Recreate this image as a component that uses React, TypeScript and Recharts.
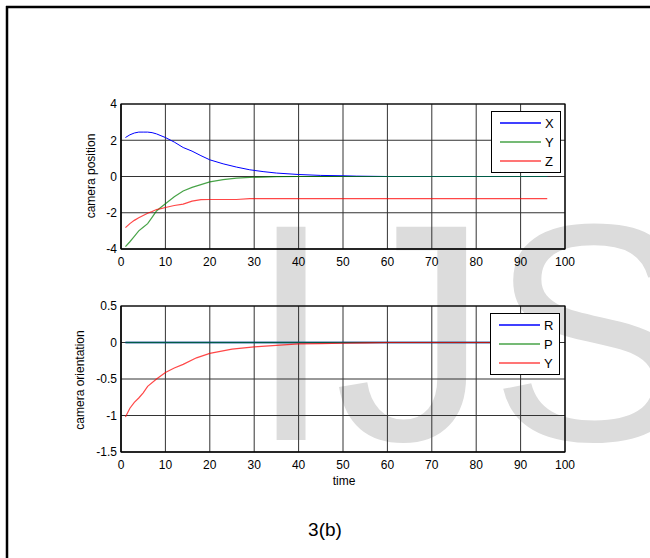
import React from 'react';
import { LineChart, Line, XAxis, YAxis, CartesianGrid, ReferenceArea } from 'recharts';

// camera position (upper plot)
const posTime = [1, 2, 3, 4, 5, 6, 7, 8, 9, 10, 12, 14, 16, 18, 20, 23, 26, 29, 32, 35, 40, 45, 50, 53, 60, 70, 80, 90, 96];
const posX = [2.15, 2.3, 2.4, 2.45, 2.45, 2.45, 2.42, 2.35, 2.25, 2.15, 1.9, 1.6, 1.4, 1.15, 0.92, 0.7, 0.52, 0.37, 0.27, 0.19, 0.11, 0.06, 0.04, 0.02, 0, 0, 0, 0, 0];
const posY = [-3.87, -3.6, -3.3, -3.0, -2.8, -2.6, -2.25, -1.9, -1.7, -1.5, -1.12, -0.8, -0.6, -0.45, -0.3, -0.17, -0.09, -0.05, -0.03, -0.01, 0, 0, 0, 0, 0, 0, 0, 0, 0];
const posZ = [-2.82, -2.6, -2.42, -2.28, -2.15, -2.03, -1.93, -1.82, -1.77, -1.71, -1.6, -1.52, -1.36, -1.28, -1.27, -1.27, -1.27, -1.22, -1.22, -1.22, -1.22, -1.22, -1.22, -1.22, -1.22, -1.22, -1.22, -1.22, -1.22];

// camera orientation (lower plot)
const oriTime = [1, 2, 3, 4, 5, 6, 8, 10, 12, 14, 17, 20, 25, 30, 35, 40, 45, 50, 55, 60, 70, 80, 90, 96];
const oriR = [0, 0, 0, 0, 0, 0, 0, 0, 0, 0, 0, 0, 0, 0, 0, 0, 0, 0, 0, 0, 0, 0, 0, 0];
const oriP = [0, 0, 0, 0, 0, 0, 0, 0, 0, 0, 0, 0, 0, 0, 0, 0, 0, 0, 0, 0, 0, 0, 0, 0];
const oriY = [-1.02, -0.9, -0.82, -0.76, -0.69, -0.6, -0.5, -0.41, -0.35, -0.3, -0.21, -0.15, -0.09, -0.06, -0.04, -0.02, -0.015, -0.01, -0.005, 0, 0, 0, 0, 0];

const timeTicks = [0, 10, 20, 30, 40, 50, 60, 70, 80, 90, 100];
const posTicks = [-4, -2, 0, 2, 4];
const oriTicks = [-1.5, -1, -0.5, 0, 0.5];

const posNames = ['X', 'Y', 'Z'];
const oriNames = ['R', 'P', 'Y'];

const FONT = 'Arial, "Liberation Sans", sans-serif';
const BLUE = '#0000ff';
const GREEN = '#008000';
const RED = '#ff0000';
const FADE = 0.72;

const posData = posTime.map((t, i) => ({ t, X: posX[i], Y: posY[i], Z: posZ[i] }));
const oriData = oriTime.map((t, i) => ({ t, R: oriR[i], P: oriP[i], Yaw: oriY[i] }));

// matlab style legend box
function BoxLegend({ names, left, top }: { names: string[]; left: number; top: number }) {
  const colors = [BLUE, GREEN, RED];
  const opac = [1, FADE, FADE];
  return (
    <div style={{ position: 'absolute', left, top, width: 70, height: 62, border: '1px solid #000', background: '#fff', boxSizing: 'border-box' }}>
      <svg width={68} height={60} style={{ display: 'block' }}>
        {names.map((n, i) => (
          <g key={n + i}>
            <line x1={8} x2={49} y1={11 + i * 19} y2={11 + i * 19} stroke={colors[i]} strokeOpacity={opac[i]} strokeWidth={1.5} />
            <text x={53} y={11 + i * 19 + 5} fontSize={13} fontFamily={FONT} fill="#000">{n}</text>
          </g>
        ))}
      </svg>
    </div>
  );
}

const tickStyle = { fill: '#000', fontSize: 12, fontFamily: FONT };

export default function App() {
  return (
    <div style={{ position: 'absolute', left: 0, top: 0, width: 650, height: 558, overflow: 'hidden', background: '#fff' }}>
      <svg width={650} height={558} style={{ position: 'absolute', left: 0, top: 0 }}>
        <text x={248} y={440} fontSize={310} fontFamily={FONT} fill="#dcdcdc">IJS</text>
        <line x1={6} y1={7} x2={650} y2={7} stroke="#000" strokeWidth={2.5} />
        <line x1={7} y1={6} x2={7} y2={558} stroke="#000" strokeWidth={2.5} />
        <text x={95} y={176} transform="rotate(-90 95 176)" textAnchor="middle" fontSize={12} fontFamily={FONT} fill="#000">camera position</text>
        <text x={84} y={380} transform="rotate(-90 84 380)" textAnchor="middle" fontSize={12} fontFamily={FONT} fill="#000">camera orientation</text>
        <text x={344} y={485} textAnchor="middle" fontSize={12} fontFamily={FONT} fill="#000">time</text>
        <text x={325} y={536} textAnchor="middle" fontSize={19} fontFamily={FONT} fill="#000">3(b)</text>
      </svg>

      <div style={{ position: 'absolute', left: 0, top: 0 }}>
        <LineChart width={650} height={290} data={posData} margin={{ top: 104, right: 85, bottom: 11, left: 61 }}>
          <CartesianGrid stroke="#333" strokeWidth={1} />
          <XAxis dataKey="t" type="number" domain={[0, 100]} ticks={timeTicks} interval={0} height={30}
            tick={tickStyle} tickSize={0} tickMargin={8} axisLine={{ stroke: '#000' }} />
          <YAxis type="number" domain={[-4, 4]} ticks={posTicks} interval={0} width={60}
            tick={tickStyle} tickSize={0} tickMargin={4} axisLine={{ stroke: '#000' }} />
          <ReferenceArea x1={0} x2={100} y1={-4} y2={4} fill="none" stroke="#000" strokeWidth={1.2} />
          <Line dataKey="X" stroke={BLUE} strokeWidth={1} dot={false} isAnimationActive={false} />
          <Line dataKey="Y" stroke={GREEN} strokeOpacity={FADE} strokeWidth={1.2} dot={false} isAnimationActive={false} />
          <Line dataKey="Z" stroke={RED} strokeOpacity={FADE} strokeWidth={1.2} dot={false} isAnimationActive={false} />
        </LineChart>
      </div>
      <BoxLegend names={posNames} left={491} top={111} />

      <div style={{ position: 'absolute', left: 0, top: 290 }}>
        <LineChart width={650} height={200} data={oriData} margin={{ top: 16, right: 85, bottom: 8, left: 61 }}>
          <CartesianGrid stroke="#333" strokeWidth={1} />
          <XAxis dataKey="t" type="number" domain={[0, 100]} ticks={timeTicks} interval={0} height={30}
            tick={tickStyle} tickSize={0} tickMargin={8} axisLine={{ stroke: '#000' }} />
          <YAxis type="number" domain={[-1.5, 0.5]} ticks={oriTicks} interval={0} width={60}
            tick={tickStyle} tickSize={0} tickMargin={4} axisLine={{ stroke: '#000' }} />
          <ReferenceArea x1={0} x2={100} y1={-1.5} y2={0.5} fill="none" stroke="#000" strokeWidth={1.2} />
          <Line dataKey="R" stroke={BLUE} strokeWidth={1.5} dot={false} isAnimationActive={false} />
          <Line dataKey="P" stroke={GREEN} strokeOpacity={FADE} strokeWidth={1.5} dot={false} isAnimationActive={false} />
          <Line dataKey="Yaw" stroke={RED} strokeOpacity={FADE} strokeWidth={1.2} dot={false} isAnimationActive={false} />
        </LineChart>
      </div>
      <BoxLegend names={oriNames} left={490} top={313} />
    </div>
  );
}
